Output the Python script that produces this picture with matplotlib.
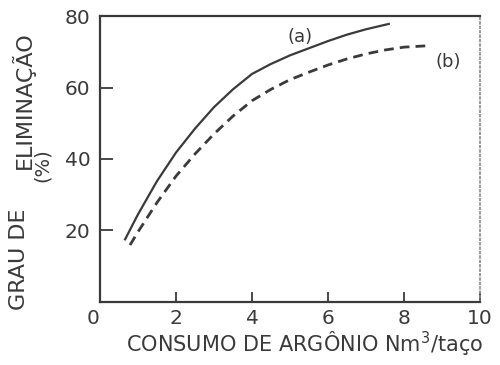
import numpy as np
import matplotlib.pyplot as plt

# curva (a) - linha cheia
xa = np.array([0.66, 1.0, 1.5, 2.0, 2.5, 3.0, 3.5, 4.0, 4.5, 5.0, 5.5, 6.0, 6.5, 7.0, 7.6])
ya = np.array([17.5, 24.5, 33.8, 41.8, 48.5, 54.5, 59.5, 63.8, 66.6, 69.0, 71.0, 73.0, 74.8, 76.3, 77.8])

# curva (b) - tracejada
xb = np.array([0.79, 1.0, 1.5, 2.0, 2.5, 3.0, 3.5, 4.0, 4.5, 5.0, 5.5, 6.0, 6.5, 7.0, 7.5, 8.0, 8.64])
yb = np.array([15.9, 19.6, 27.8, 35.2, 41.4, 47.0, 52.0, 56.3, 59.5, 62.2, 64.3, 66.3, 68.0, 69.4, 70.5, 71.3, 71.7])

xticks = [0, 2, 4, 6, 8, 10]
yticks = [20, 40, 60, 80]

cor = '#3a3a3a'
fig = plt.figure(figsize=(5, 3.65), dpi=100)
ax = fig.add_axes([0.2, 0.173, 0.76, 0.783])

ax.plot(xa, ya, '-', color=cor, lw=1.6, solid_joinstyle='round')
ax.plot(xb, yb, '--', color=cor, lw=2.0, dashes=(3.5, 2.2), dash_joinstyle='round')

ax.text(5.26, 74.2, '(a)', color=cor, fontsize=13, ha='center', va='center')
ax.text(9.16, 67.2, '(b)', color=cor, fontsize=13, ha='center', va='center')

ax.set_xlim(0, 10)
ax.set_ylim(0, 80)
ax.set_xticks(xticks)
ax.set_xticklabels([str(t) for t in xticks])
ax.set_yticks(yticks)
ax.set_yticklabels([str(t) for t in yticks])
ax.tick_params(direction='in', width=1.3, colors=cor, labelsize=14.5)
ax.tick_params(axis='y', length=9, pad=7)
ax.tick_params(axis='x', length=7, pad=5)
ax.get_xticklabels()[0].set_ha('right')
for s in ['left', 'bottom', 'top']:
    ax.spines[s].set_color(cor)
    ax.spines[s].set_linewidth(1.6)
ax.spines['right'].set_color('#888888')
ax.spines['right'].set_linestyle(':')
ax.spines['right'].set_linewidth(1.2)

fig.text(0.61, 0.058, 'CONSUMO DE ARGÔNIO Nm$^3$/taço', color=cor, fontsize=15,
         ha='center', va='center')
fig.text(0.038, 0.29, 'GRAU DE', rotation=90, color=cor, fontsize=16,
         ha='center', va='center')
fig.text(0.046, 0.726, 'ELIMINAÇÃO', rotation=90, color=cor, fontsize=16,
         ha='center', va='center')
fig.text(0.084, 0.548, '(%)', rotation=90, color=cor, fontsize=14,
         ha='center', va='center')

fig.savefig('out.png')
